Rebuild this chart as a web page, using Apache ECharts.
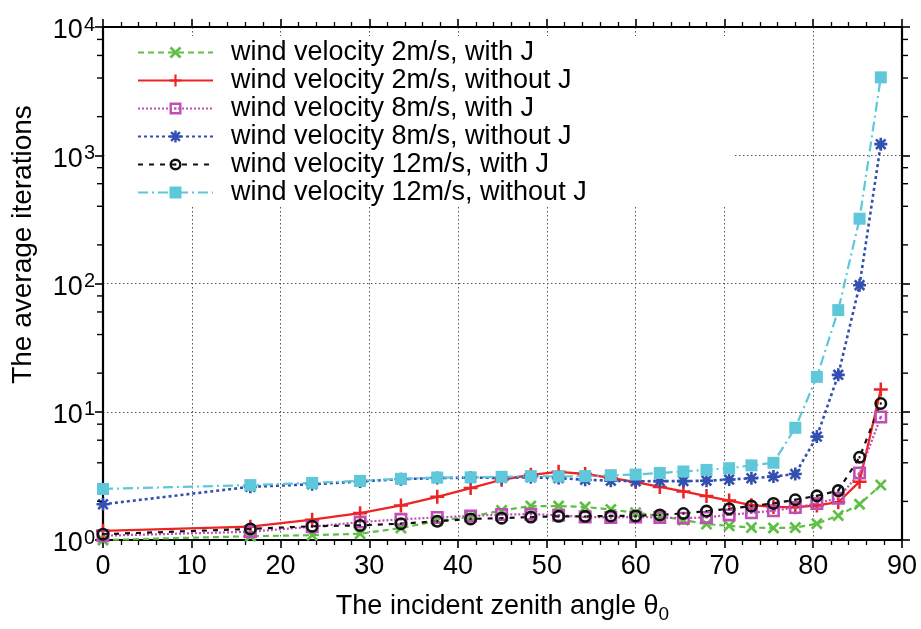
<!DOCTYPE html>
<html>
<head>
<meta charset="utf-8">
<script src="https://cdn.jsdelivr.net/npm/echarts@6/dist/echarts.min.js"></script>
<style>
html,body{margin:0;padding:0;background:#fff;}
#chart{width:921px;height:629px;}
</style>
</head>
<body>
<div id="chart"></div>
<script>
// Incident zenith angles (degrees)
const angles = [0, 16.6, 23.56, 28.96, 33.56, 37.65, 41.41, 44.9, 48.19, 51.32, 54.31, 57.2, 60, 62.72, 65.38, 67.98, 70.53, 73.04, 75.52, 77.98, 80.41, 82.82, 85.22, 87.61];

const wind2WithJ    = [1.0, 1.07, 1.09, 1.12, 1.24, 1.41, 1.52, 1.70, 1.84, 1.84, 1.81, 1.73, 1.63, 1.54, 1.43, 1.33, 1.29, 1.25, 1.24, 1.25, 1.34, 1.55, 1.90, 2.68];
const wind2WithoutJ = [1.18, 1.27, 1.44, 1.62, 1.86, 2.17, 2.54, 2.95, 3.22, 3.40, 3.27, 3.05, 2.83, 2.59, 2.39, 2.20, 2.03, 1.87, 1.81, 1.80, 1.86, 1.97, 2.85, 14.9];
const wind8WithJ    = [1.08, 1.16, 1.27, 1.38, 1.45, 1.50, 1.54, 1.58, 1.59, 1.56, 1.51, 1.50, 1.51, 1.50, 1.48, 1.50, 1.57, 1.63, 1.69, 1.79, 1.93, 2.12, 3.33, 9.1];
const wind8WithoutJ = [1.90, 2.60, 2.72, 2.86, 2.98, 3.04, 3.06, 3.05, 3.08, 3.04, 2.95, 2.90, 2.87, 2.88, 2.88, 2.90, 2.96, 3.03, 3.12, 3.27, 6.4, 19.4, 97, 1220];
const wind12WithJ   = [1.11, 1.22, 1.28, 1.30, 1.34, 1.40, 1.46, 1.48, 1.51, 1.53, 1.53, 1.54, 1.54, 1.57, 1.61, 1.68, 1.75, 1.84, 1.93, 2.06, 2.21, 2.43, 4.42, 11.6];
const wind12WithoutJ= [2.50, 2.68, 2.79, 2.89, 3.00, 3.07, 3.08, 3.11, 3.15, 3.13, 3.15, 3.20, 3.24, 3.33, 3.42, 3.52, 3.63, 3.82, 4.00, 7.5, 18.7, 62, 320, 4050];

const seriesNames = [
  'wind velocity 2m/s, with J',
  'wind velocity 2m/s, without J',
  'wind velocity 8m/s, with J',
  'wind velocity 8m/s, without J',
  'wind velocity 12m/s, with J',
  'wind velocity 12m/s, without J'
];

const xTickValues = [0, 10, 20, 30, 40, 50, 60, 70, 80, 90];
const yMinorTickValues = [2, 4, 6, 8, 20, 40, 60, 80, 200, 400, 600, 800, 2000, 4000, 6000, 8000];

const pairs = ys => angles.map((a, i) => [a, ys[i]]);

const SYM_X = 'path://M0,1.6L1.6,0L5,3.4L8.4,0L10,1.6L6.6,5L10,8.4L8.4,10L5,6.6L1.6,10L0,8.4L3.4,5Z';
const SYM_PLUS = 'path://M4.1,0H5.9V4.1H10V5.9H5.9V10H4.1V5.9H0V4.1H4.1Z';
const SYM_SQ_DOT = 'path://M0,0H10V10H0Z M2,2V8H8V2Z M4.1,4.1H5.9V5.9H4.1Z';
const SYM_STAR = 'path://M4,0H6V2.6L8,0.6L9.4,2L7.4,4H10V6H7.4L9.4,8L8,9.4L6,7.4V10H4V7.4L2,9.4L0.6,8L2.6,6H0V4H2.6L0.6,2L2,0.6L4,2.6Z';
const SYM_CIRC = 'path://M5,0A5,5,0,1,1,5,10A5,5,0,1,1,5,0Z M5,2A3,3,0,1,0,5,8A3,3,0,1,0,5,2Z M5,4.1A0.9,0.9,0,1,1,5,5.9A0.9,0.9,0,1,1,5,4.1Z';

const colors = ['#5fbf45', '#ee2424', '#bf4fb5', '#3350b0', '#111111', '#5ec8da'];

function lineSeries(idx, ys, symbol, size, lineType, width) {
  return {
    name: seriesNames[idx],
    type: 'line',
    data: pairs(ys),
    symbol: symbol,
    symbolSize: size,
    symbolKeepAspect: true,
    showAllSymbol: true,
    xAxisIndex: 0,
    yAxisIndex: 0,
    lineStyle: { color: colors[idx], width: width, type: lineType },
    itemStyle: { color: colors[idx], borderWidth: 0 },
    emphasis: { disabled: true },
    animation: false
  };
}

const chart = echarts.init(document.getElementById('chart'), null, { renderer: 'canvas' });

const axisCommon = {
  axisLine: { show: true, onZero: false, lineStyle: { color: '#000', width: 2.2 } },
  axisTick: { show: true, inside: false, length: 8, lineStyle: { color: '#000', width: 1.6 } }
};

const option = {
  backgroundColor: '#ffffff',
  animation: false,
  grid: { left: 103, right: 19, top: 27, bottom: 83, containLabel: false },
  legend: {
    data: seriesNames,
    orient: 'vertical',
    left: 105,
    top: 36,
    itemWidth: 75,
    itemHeight: 15,
    itemGap: 1,
    padding: [3, 33, 0, 32],
    backgroundColor: '#ffffff',
    selectedMode: false,
    textStyle: {
      fontFamily: 'Liberation Sans, Arial, sans-serif',
      fontSize: 27,
      color: '#000',
      lineHeight: 24,
      width: 470,
      padding: [0, 0, 0, 13]
    }
  },
  xAxis: [
    Object.assign({}, axisCommon, {
      type: 'value', position: 'bottom', min: 0, max: 90, interval: 10,
      minorTick: { show: true, splitNumber: 5, length: 5, lineStyle: { color: '#000', width: 1.3 } },
      splitLine: { show: true, lineStyle: { color: '#555', width: 1, type: [1.5, 2.5] } },
      axisLabel: {
        show: true, margin: 13, color: '#000', fontSize: 27,
        fontFamily: 'Liberation Sans Narrow, Liberation Sans, Arial, sans-serif',
        customValues: xTickValues
      },
      name: 'The incident zenith angle θ{sub|0}',
      nameLocation: 'middle',
      nameGap: 49,
      nameTextStyle: {
        color: '#000', fontSize: 27,
        fontFamily: 'Liberation Sans Narrow, Liberation Sans, Arial, sans-serif',
        rich: { sub: { fontSize: 19, verticalAlign: 'bottom', padding: [16, 0, 0, 0], fontFamily: 'Liberation Sans Narrow, Liberation Sans, Arial, sans-serif', color: '#000' } }
      }
    }),
    Object.assign({}, axisCommon, {
      type: 'value', position: 'top', min: 0, max: 90, interval: 10,
      minorTick: { show: true, splitNumber: 5, length: 5, lineStyle: { color: '#000', width: 1.3 } },
      splitLine: { show: false },
      axisLabel: { show: false }
    })
  ],
  yAxis: [
    Object.assign({}, axisCommon, {
      type: 'log', logBase: 10, min: 1, max: 10000, position: 'left',
      splitLine: { show: true, lineStyle: { color: '#555', width: 1, type: [1.5, 2.5] } },
      axisLabel: {
        show: true, margin: 8, color: '#000', fontSize: 27, lineHeight: 32,
        padding: [8, 0, 0, 0],
        fontFamily: 'Liberation Sans, Arial, sans-serif',
        formatter: function (v) { return '10{sup|' + Math.round(Math.log10(v)) + '}'; },
        rich: { sup: { fontSize: 20, verticalAlign: 'top', lineHeight: 32, padding: [0, 0, 0, 1], fontFamily: 'Liberation Sans, Arial, sans-serif', color: '#000' } }
      },
      name: 'The average iterations',
      nameLocation: 'middle',
      nameRotate: 90,
      nameGap: 66,
      nameTextStyle: { color: '#000', fontSize: 28, fontFamily: 'Liberation Sans, Arial, sans-serif', padding: [0, 0, 0, 78] }
    }),
    Object.assign({}, axisCommon, {
      type: 'log', logBase: 10, min: 1, max: 10000, position: 'right',
      splitLine: { show: false },
      axisLabel: { show: false }
    })
  ],
  series: [
    lineSeries(0, wind2WithJ, SYM_X, 12, [6, 4], 2.2),
    lineSeries(1, wind2WithoutJ, SYM_PLUS, 14, 'solid', 2.3),
    lineSeries(2, wind8WithJ, SYM_SQ_DOT, 13, [2, 2], 2.2),
    lineSeries(3, wind8WithoutJ, SYM_STAR, 13, [3, 3], 2.6),
    lineSeries(4, wind12WithJ, SYM_CIRC, 13, [5, 6], 2.2),
    lineSeries(5, wind12WithoutJ, 'rect', 12, [10, 4, 2, 4], 2.2),
    {
      name: 'yMinorTicks',
      type: 'custom',
      xAxisIndex: 0,
      yAxisIndex: 0,
      silent: true,
      clip: false,
      z: 10,
      data: yMinorTickValues.map(v => [0, v]),
      renderItem: function (params, api) {
        const v = api.value(1);
        const pl = api.coord([0, v]);
        const pr = api.coord([90, v]);
        const st = { stroke: '#000', lineWidth: 1.4 };
        return {
          type: 'group',
          children: [
            { type: 'line', shape: { x1: pl[0] - 1, y1: pl[1], x2: pl[0] - 6, y2: pl[1] }, style: st },
            { type: 'line', shape: { x1: pr[0] + 1, y1: pr[1], x2: pr[0] + 6, y2: pr[1] }, style: st }
          ]
        };
      }
    }
  ]
};

chart.setOption(option);
</script>
</body>
</html>
